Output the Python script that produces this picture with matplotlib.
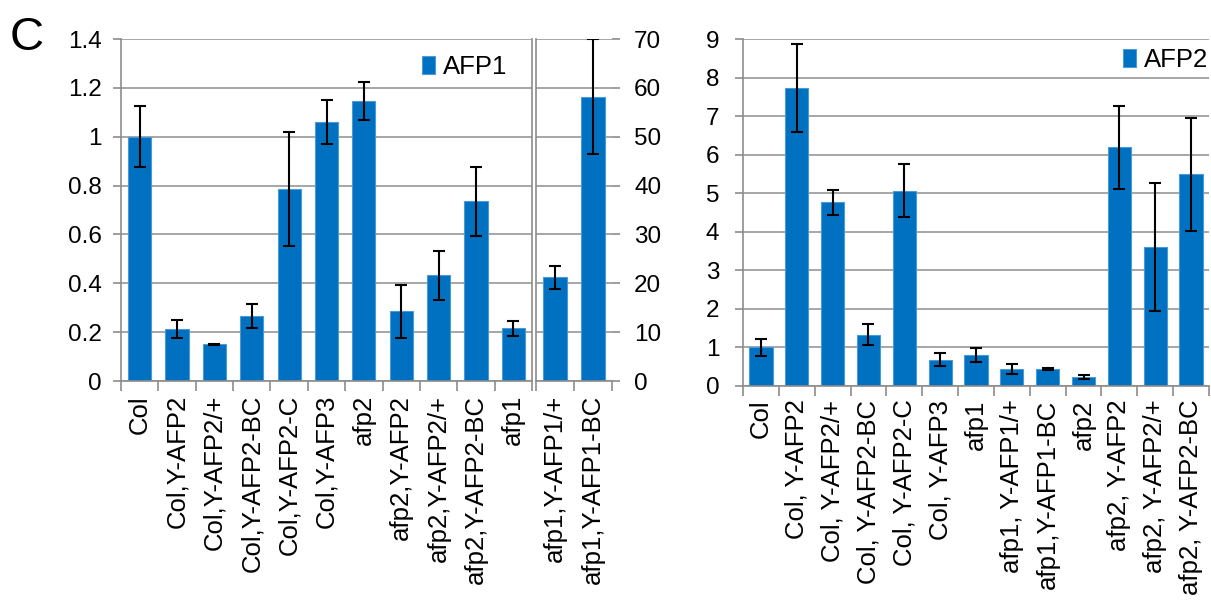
import matplotlib
matplotlib.use("Agg")
import matplotlib.pyplot as plt
import numpy as np

plt.rcParams['font.family'] = ['Liberation Sans', 'DejaVu Sans']

# ---- data: panel AFP1 (left axis, relative) ----
afp1_cats = ["Col", "Col,Y-AFP2", "Col,Y-AFP2/+", "Col,Y-AFP2-BC", "Col,Y-AFP2-C",
             "Col,Y-AFP3", "afp2", "afp2,Y-AFP2", "afp2,Y-AFP2/+", "afp2,Y-AFP2-BC", "afp1"]
afp1_vals = [1.00, 0.213, 0.150, 0.265, 0.786, 1.062, 1.147, 0.285, 0.433, 0.736, 0.215]
afp1_errs = [0.125, 0.036, 0.002, 0.050, 0.232, 0.090, 0.077, 0.108, 0.100, 0.142, 0.032]
# ---- data: panel AFP1 (right axis) ----
afp1b_cats = ["afp1,Y-AFP1/+", "afp1,Y-AFP1-BC"]
afp1b_vals = [21.2, 58.2]
afp1b_errs = [2.35, 11.7]
# ---- data: panel AFP2 ----
afp2_cats = ["Col", "Col, Y-AFP2", "Col, Y-AFP2/+", "Col, Y-AFP2-BC", "Col, Y-AFP2-C",
             "Col, Y-AFP3", "afp1", "afp1, Y-AFP1/+", "afp1,Y-AFP1-BC", "afp2",
             "afp2, Y-AFP2", "afp2, Y-AFP2/+", "afp2, Y-AFP2-BC"]
afp2_vals = [1.00, 7.73, 4.76, 1.33, 5.07, 0.68, 0.79, 0.44, 0.44, 0.225, 6.19, 3.60, 5.49]
afp2_errs = [0.22, 1.15, 0.33, 0.27, 0.69, 0.17, 0.18, 0.135, 0.02, 0.06, 1.07, 1.67, 1.47]

BAR = "#0070C0"
EDGE = "#4a9ad8"
GRID = "#a6a6a6"
SPINE = "#8c8c8c"
TICKFS = 17.5
LABFS = 18.5

W, H = 1211, 607
fig = plt.figure(figsize=(W / 100, H / 100), dpi=100)


def fr(x0, x1, ytop, ybot):
    return [x0 / W, 1 - ybot / H, (x1 - x0) / W, (ybot - ytop) / H]


def style(ax, ymax, ystep, side='left', left_spine=True, right_spine=False, pad=9):
    ax.set_ylim(0, ymax)
    ax.set_yticks(np.arange(0, ymax + ystep / 2, ystep))
    ax.yaxis.grid(True, color=GRID, lw=1.4)
    ax.set_axisbelow(True)
    for s in ['top', 'bottom', 'left', 'right']:
        ax.spines[s].set_visible(False)
    ax.spines['bottom'].set_visible(True)
    ax.spines['bottom'].set_color(SPINE)
    ax.spines['bottom'].set_linewidth(1.2)
    if left_spine:
        ax.spines['left'].set_visible(True)
        ax.spines['left'].set_color(SPINE)
        ax.spines['left'].set_linewidth(1.2)
    if right_spine:
        ax.spines['right'].set_visible(True)
        ax.spines['right'].set_color(SPINE)
        ax.spines['right'].set_linewidth(1.2)
    if side == 'left':
        ax.yaxis.tick_left()
    elif side == 'right':
        ax.yaxis.tick_right()
    ax.tick_params(axis='y', which='major', length=6, width=1.2, color=SPINE,
                   labelsize=TICKFS, pad=pad)
    ax.tick_params(axis='x', which='major', length=0, labelsize=LABFS, pad=10)
    ax.tick_params(axis='x', which='minor', length=7, width=1.2, color=SPINE)


def fmt_num(v):
    return ("%g" % v)


# ---- left panel main axes ----
ax1 = fig.add_axes(fr(121, 532, 39, 381))
x1 = np.arange(len(afp1_cats))
ax1.bar(x1, afp1_vals, width=0.62, color=BAR, edgecolor=EDGE, linewidth=0.8,
        yerr=afp1_errs, capsize=4, error_kw=dict(ecolor='black', elinewidth=1.5, capthick=1.5),
        label="AFP1")
ax1.set_xlim(-0.5, len(afp1_cats) - 0.5)
style(ax1, 1.4, 0.2, side='left', left_spine=True, right_spine=True, pad=8)
ax1.set_yticks(np.arange(0, 1.41, 0.2))
ax1.set_yticklabels([fmt_num(round(v, 1)) for v in np.arange(0, 1.41, 0.2)])
ax1.set_xticks(x1)
ax1.set_xticklabels(afp1_cats, rotation=90)
ax1.set_xticks(np.arange(-0.5, len(afp1_cats)), minor=True)
ax1.legend(loc='center right', bbox_to_anchor=(0.94, 0.918), frameon=False,
           fontsize=18.5, handlelength=0.5, handleheight=0.7, handletextpad=0.3,
           borderpad=0, borderaxespad=0)

# ---- left panel secondary axes ----
ax2 = fig.add_axes(fr(536, 612, 39, 381))
x2 = np.arange(len(afp1b_cats))
ax2.bar(x2, afp1b_vals, width=0.62, color=BAR, edgecolor=EDGE, linewidth=0.8,
        yerr=afp1b_errs, capsize=4, error_kw=dict(ecolor='black', elinewidth=1.5, capthick=1.5))
ax2.set_xlim(-0.5, len(afp1b_cats) - 0.5)
style(ax2, 70, 10, side='right', left_spine=True, right_spine=False, pad=10)
ax2.tick_params(axis='y', left=False)
ax2.set_xticks(x2)
ax2.set_xticklabels(afp1b_cats, rotation=90)
ax2.set_xticks(np.arange(-0.5, len(afp1b_cats)), minor=True)

# ---- right panel ----
ax3 = fig.add_axes(fr(743, 1209, 39.3, 385.7))
x3 = np.arange(len(afp2_cats))
ax3.bar(x3, afp2_vals, width=0.65, color=BAR, edgecolor=EDGE, linewidth=0.8,
        yerr=afp2_errs, capsize=4, error_kw=dict(ecolor='black', elinewidth=1.5, capthick=1.5),
        label="AFP2")
ax3.set_xlim(-0.5, len(afp2_cats) - 0.5)
style(ax3, 9, 1, side='left', left_spine=True, right_spine=False, pad=11)
ax3.set_xticks(x3)
ax3.set_xticklabels(afp2_cats, rotation=90)
ax3.set_xticks(np.arange(-0.5, len(afp2_cats)), minor=True)
ax3.legend(loc='center right', bbox_to_anchor=(0.998, 0.94), frameon=False,
           fontsize=18.5, handlelength=0.5, handleheight=0.7, handletextpad=0.3,
           borderpad=0, borderaxespad=0)

fig.text(27 / W, 1 - 38 / H, "C", fontsize=34, ha='center', va='center')

fig.savefig("out.png", dpi=100)
